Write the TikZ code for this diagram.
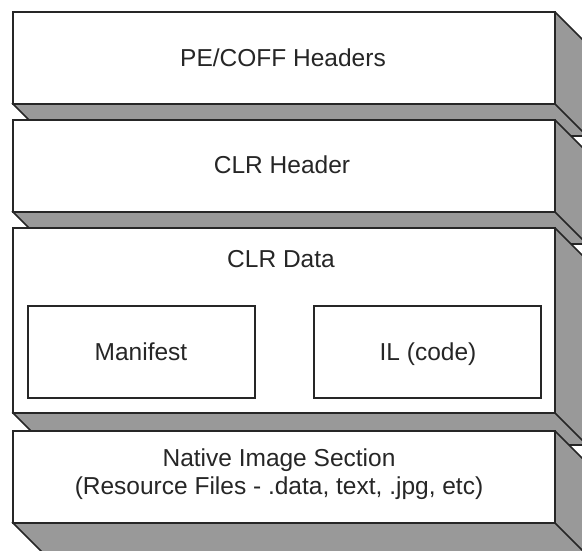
\documentclass[tikz,border=0pt]{standalone}
\usepackage{fontspec}
\setmainfont{Liberation Sans}
\usetikzlibrary{backgrounds}

\definecolor{edge}{HTML}{262626}
\definecolor{slabside}{HTML}{999999}
\newcommand\slabdepth{32pt}

% gray bottom and right faces of a slab, drawn behind every front face
\newcommand\extrude[1]{%
  \begin{scope}[on background layer]
    \filldraw[sideface] (#1.south west)
      -- ([shift={(\slabdepth,-\slabdepth)}]#1.south west)
      -- ([shift={(\slabdepth,-\slabdepth)}]#1.south east)
      -- ([shift={(\slabdepth,-\slabdepth)}]#1.north east)
      -- (#1.north east) -- cycle;
    \draw[sideface] (#1.south east) -- ([shift={(\slabdepth,-\slabdepth)}]#1.south east);
  \end{scope}}

\begin{document}
\begin{tikzpicture}[x=1pt, y=-1pt,
  slab/.style={draw=edge, fill=white, line width=1.6pt, inner sep=0pt, outer sep=0pt,
    anchor=north west, minimum width=542pt},
  inbox/.style={draw=edge, fill=white, line width=1.6pt, inner sep=0pt, outer sep=0pt,
    anchor=north west, minimum width=227pt, minimum height=92pt},
  sideface/.style={draw=edge, fill=slabside, line width=1.6pt, line join=miter},
  lbl/.style={font=\fontsize{24.5}{28}\selectfont, text=edge, anchor=base, inner sep=0pt}]

  \useasboundingbox (0,0) rectangle (582,550);

  % four stacked slabs
  \node[slab, minimum height=92pt]  (pe)     at (13,12)  {};
  \node[slab, minimum height=92pt]  (clrh)   at (13,120) {};
  \node[slab, minimum height=185pt] (clrd)   at (13,228) {};
  \node[slab, minimum height=92pt]  (native) at (13,431) {};
  \extrude{pe}
  \extrude{clrh}
  \extrude{clrd}
  \extrude{native}

  % boxes inside the CLR data slab
  \node[inbox] (man) at (28,306)  {};
  \node[inbox] (il)  at (314,306) {};

  % labels
  \node[lbl] (tpe)   at (283,66)  {PE/COFF Headers};
  \node[lbl] (tclrh) at (282,173) {CLR Header};
  \node[lbl] (tclrd) at (281,267) {CLR Data};
  \node[lbl] (tman)  at (141,360) {Manifest};
  \node[lbl] (til)   at (428,360) {IL (code)};
  \node[lbl] (tnat1) at (279,466) {Native Image Section};
  \node[lbl] (tnat2) at (279,494) {(Resource Files - .data, text, .jpg, etc)};
\end{tikzpicture}
\end{document}
